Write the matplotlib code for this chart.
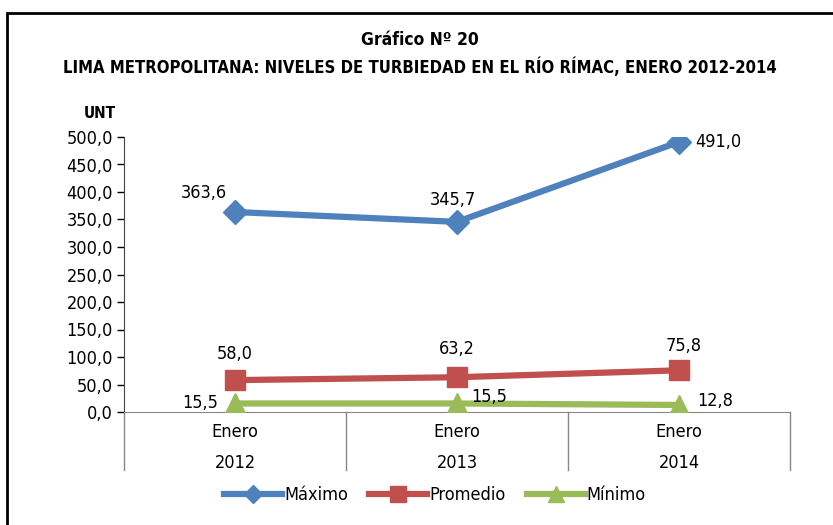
import matplotlib.pyplot as plt
from matplotlib import font_manager
from matplotlib.patches import Rectangle
from matplotlib.lines import Line2D

# look for a narrow font, like Arial Narrow in the original
narrow = None
for f in font_manager.fontManager.ttflist:
    if 'Narrow' in f.name or 'Condensed' in f.fname:
        narrow = f
        break
if narrow is not None:
    plt.rcParams['font.family'] = [narrow.name, 'DejaVu Sans']
    if 'Narrow' not in narrow.name:
        plt.rcParams['font.stretch'] = 'condensed'
else:
    plt.rcParams['font.family'] = ['DejaVu Sans']

years = ['2012', '2013', '2014']
maximo = [363.6, 345.7, 491.0]
promedio = [58.0, 63.2, 75.8]
minimo = [15.5, 15.5, 12.8]

W, H = 833, 525
fig = plt.figure(figsize=(W / 100, H / 100), dpi=100)
ax = fig.add_axes([124 / W, 1 - 412 / H, (790 - 124) / W, (412 - 137) / H])

x = range(len(years))
ax.plot(x, maximo, color='#4F81BD', lw=4.5, marker='D', ms=12, label='Máximo', zorder=3)
ax.plot(x, promedio, color='#C0504D', lw=4.5, marker='s', ms=14, label='Promedio', zorder=3)
ax.plot(x, minimo, color='#9BBB59', lw=4.5, marker='^', ms=15, label='Mínimo', zorder=3)

def fmt(v):
    return f'{v:.1f}'.replace('.', ',')

fs = 13
# data labels
ax.annotate(fmt(maximo[0]), (0, maximo[0]), xytext=(-6, 7), textcoords='offset points', ha='right', va='bottom', fontsize=fs)
ax.annotate(fmt(maximo[1]), (1, maximo[1]), xytext=(-3, 9), textcoords='offset points', ha='center', va='bottom', fontsize=fs)
ax.annotate(fmt(maximo[2]), (2, maximo[2]), xytext=(12, 0), textcoords='offset points', ha='left', va='center', fontsize=fs)
ax.annotate(fmt(promedio[0]), (0, promedio[0]), xytext=(0, 12), textcoords='offset points', ha='center', va='bottom', fontsize=fs)
ax.annotate(fmt(promedio[1]), (1, promedio[1]), xytext=(0, 14), textcoords='offset points', ha='center', va='bottom', fontsize=fs)
ax.annotate(fmt(promedio[2]), (2, promedio[2]), xytext=(3, 11), textcoords='offset points', ha='center', va='bottom', fontsize=fs)
ax.annotate(fmt(minimo[0]), (0, minimo[0]), xytext=(-12, 0), textcoords='offset points', ha='right', va='center', fontsize=fs)
ax.annotate(fmt(minimo[1]), (1, minimo[1]), xytext=(10, 5), textcoords='offset points', ha='left', va='center', fontsize=fs)
ax.annotate(fmt(minimo[2]), (2, minimo[2]), xytext=(13, 3), textcoords='offset points', ha='left', va='center', fontsize=fs)

ax.set_xlim(-0.5, 2.5)
ax.set_ylim(0, 500)
ax.set_yticks(range(0, 501, 50))
ax.set_yticklabels([fmt(t) for t in range(0, 501, 50)], fontsize=13)
ax.tick_params(axis='y', length=5, width=1, pad=3)
ax.set_xticks([])
for s in ['top', 'right']:
    ax.spines[s].set_visible(False)
ax.spines['left'].set_color('#444444')
ax.spines['bottom'].set_color('#888888')

# two level category axis
for b in [-0.5, 0.5, 1.5, 2.5]:
    ax.add_line(Line2D([b, b], [0, -105], color='#888888', lw=1, clip_on=False))
for i, y in enumerate(years):
    ax.text(i, -36, 'Enero', ha='center', va='center', fontsize=13)
    ax.text(i, -93, y, ha='center', va='center', fontsize=13)

fig.text(100 / W, 1 - 113 / H, 'UNT', ha='center', va='center', fontsize=11, fontweight='bold')
fig.text(420 / W, 1 - 40 / H, 'Gráfico Nº 20', ha='center', va='center', fontsize=12.5, fontweight='bold')
fig.text(420 / W, 1 - 67 / H, 'LIMA METROPOLITANA: NIVELES DE TURBIEDAD EN EL RÍO RÍMAC, ENERO 2012-2014',
         ha='center', va='center', fontsize=12, fontweight='bold')

fig.legend(loc='center', bbox_to_anchor=(435 / W, 1 - 495 / H), ncol=3, frameon=False, fontsize=13,
           handlelength=3.2, handletextpad=0.1, columnspacing=1.2, markerscale=0.8)

fig.add_artist(Rectangle((7 / W, -0.1), 1.0, 1 - 13 / H + 0.1, transform=fig.transFigure,
                         fill=False, edgecolor='black', lw=2))

fig.savefig('out.png', dpi=100)
